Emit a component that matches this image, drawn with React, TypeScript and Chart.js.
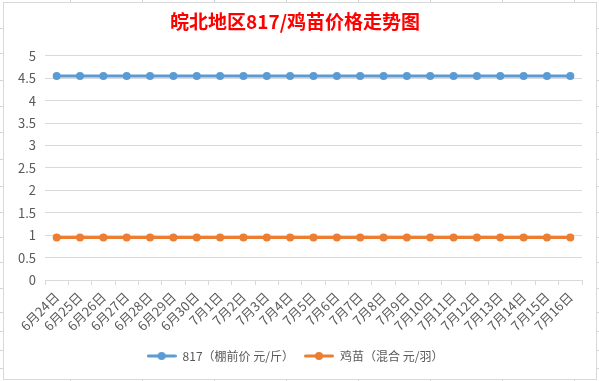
import React, { useEffect, useRef } from "react";
import { Chart, registerables } from "chart.js";

Chart.register(...registerables);

const titleText = "皖北地区817/鸡苗价格走势图";
const categories = [
  "6月24日", "6月25日", "6月26日", "6月27日", "6月28日", "6月29日", "6月30日",
  "7月1日", "7月2日", "7月3日", "7月4日", "7月5日", "7月6日", "7月7日",
  "7月8日", "7月9日", "7月10日", "7月11日", "7月12日", "7月13日", "7月14日",
  "7月15日", "7月16日",
];
const seriesNames = ["817（棚前价 元/斤）", "鸡苗（混合 元/羽）"];
const price817 = [
  4.55, 4.55, 4.55, 4.55, 4.55, 4.55, 4.55, 4.55, 4.55, 4.55, 4.55, 4.55,
  4.55, 4.55, 4.55, 4.55, 4.55, 4.55, 4.55, 4.55, 4.55, 4.55, 4.55,
];
const chickPrice = [
  0.95, 0.95, 0.95, 0.95, 0.95, 0.95, 0.95, 0.95, 0.95, 0.95, 0.95, 0.95,
  0.95, 0.95, 0.95, 0.95, 0.95, 0.95, 0.95, 0.95, 0.95, 0.95, 0.95,
];
const yTicks = [0, 0.5, 1, 1.5, 2, 2.5, 3, 3.5, 4, 4.5, 5];

const colors = ["#5B9BD5", "#ED7D31"];
const FONT = "'Noto Sans CJK SC', 'Noto Sans', sans-serif";

const sheetCols = [70, 142, 214, 286, 358, 430, 502, 574];
const sheetRows = [28, 53, 80, 106, 132, 159, 186, 212, 237, 262, 288, 312, 331, 350, 368];

function makeIcon(color: string): HTMLCanvasElement {
  const c = document.createElement("canvas");
  c.width = 30;
  c.height = 10;
  const ctx = c.getContext("2d")!;
  ctx.strokeStyle = color;
  ctx.lineWidth = 3;
  ctx.lineCap = "round";
  ctx.beginPath();
  ctx.moveTo(1.5, 5);
  ctx.lineTo(28.5, 5);
  ctx.stroke();
  ctx.fillStyle = color;
  ctx.beginPath();
  ctx.arc(15, 5, 4, 0, Math.PI * 2);
  ctx.fill();
  return c;
}

export default function App() {
  const ref = useRef<HTMLCanvasElement>(null);

  useEffect(() => {
    const icons = colors.map(makeIcon);
    const chart = new Chart(ref.current!, {
      type: "line",
      data: {
        labels: categories,
        datasets: [
          {
            label: seriesNames[0],
            data: price817,
            borderColor: colors[0],
            backgroundColor: colors[0],
            borderWidth: 3,
            pointRadius: 4,
            pointBorderWidth: 0,
            pointBackgroundColor: colors[0],
            tension: 0,
          },
          {
            label: seriesNames[1],
            data: chickPrice,
            borderColor: colors[1],
            backgroundColor: colors[1],
            borderWidth: 3,
            pointRadius: 4,
            pointBorderWidth: 0,
            pointBackgroundColor: colors[1],
            tension: 0,
          },
        ],
      },
      options: {
        animation: false,
        responsive: false,
        devicePixelRatio: 1,
        layout: { padding: { left: 8, right: 17, top: 0, bottom: 9 } },
        plugins: {
          title: {
            display: true,
            text: titleText,
            color: "#FF0000",
            font: { family: FONT, size: 19, weight: "bold" },
            padding: { top: 10, bottom: 23 },
          },
          legend: {
            position: "bottom",
            labels: {
              usePointStyle: true,
              pointStyleWidth: 30,
              padding: 10,
              color: "#595959",
              font: { family: FONT, size: 12 },
              generateLabels: (ch: any) =>
                Chart.defaults.plugins.legend.labels
                  .generateLabels(ch)
                  .map((l: any, i: number) => ({ ...l, pointStyle: icons[i] })),
            },
          },
          tooltip: { enabled: false },
        },
        scales: {
          x: {
            offset: true,
            grid: {
              display: true,
              drawOnChartArea: false,
              drawTicks: true,
              tickLength: 5,
              offset: true,
              color: "#D9D9D9",
            },
            border: { display: true, color: "#D9D9D9" },
            ticks: {
              autoSkip: false,
              minRotation: 45,
              maxRotation: 45,
              padding: 4,
              color: "#595959",
              font: { family: FONT, size: 13 },
            },
            afterFit: (s: any) => {
              s.height = 60;
            },
          },
          y: {
            min: 0,
            max: 5,
            afterBuildTicks: (s: any) => {
              s.ticks = yTicks.map((v) => ({ value: v }));
            },
            grid: { color: "#D9D9D9", drawTicks: false },
            border: { display: false },
            ticks: {
              padding: 9,
              color: "#595959",
              font: { family: FONT, size: 13 },
              callback: (v: any) => String(v),
            },
            afterFit: (s: any) => {
              s.width = 37;
            },
          },
        },
      },
    });
    return () => chart.destroy();
  }, []);

  return (
    <div
      style={{
        position: "fixed",
        left: 0,
        top: 0,
        width: 599,
        height: 381,
        background: "#fff",
        overflow: "hidden",
      }}
    >
      {sheetCols.map((x) => (
        <div
          key={"c" + x}
          style={{ position: "absolute", left: x, top: 0, width: 1, height: 381, background: "#D4D4D4" }}
        />
      ))}
      {sheetRows.map((y) => (
        <div
          key={"r" + y}
          style={{ position: "absolute", left: 0, top: y, width: 599, height: 1, background: "#D4D4D4" }}
        />
      ))}
      <div
        style={{
          position: "absolute",
          left: 3,
          top: 2,
          width: 592,
          height: 376,
          border: "1px solid #D9D9D9",
          background: "#fff",
        }}
      />
      <canvas
        ref={ref}
        width={599}
        height={381}
        style={{ position: "absolute", left: 0, top: 0, width: 599, height: 381 }}
      />
    </div>
  );
}
